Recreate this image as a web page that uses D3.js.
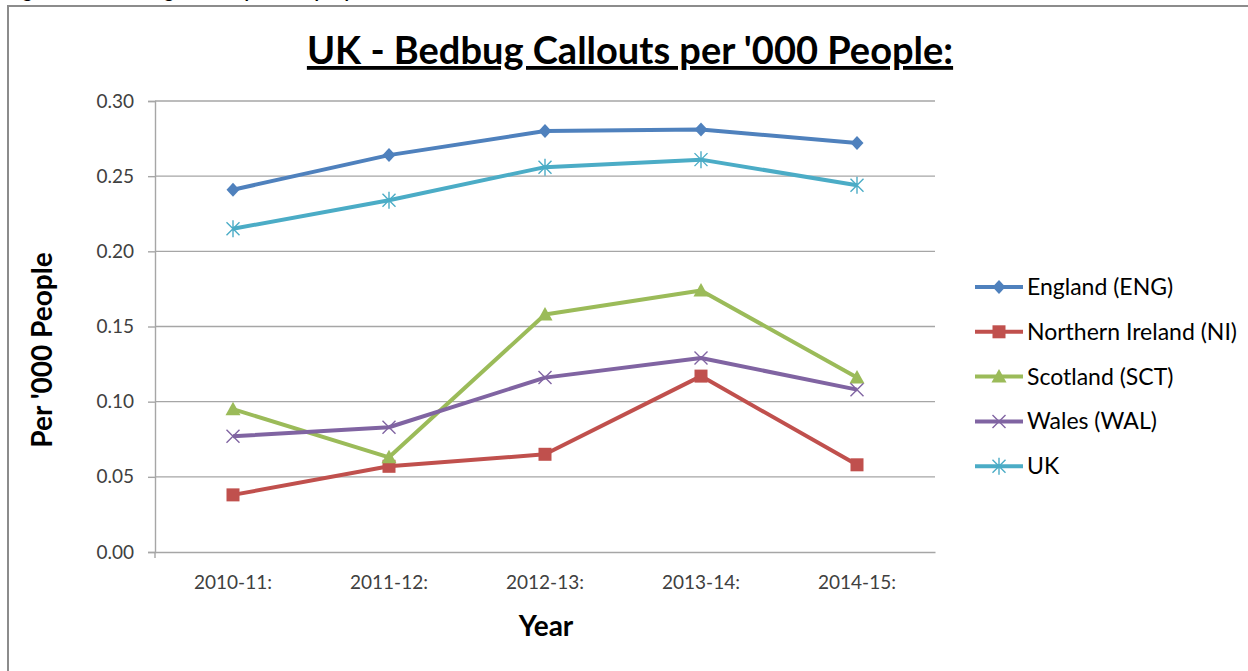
<!DOCTYPE html>
<html>
<head>
<meta charset="utf-8">
<script src="https://cdn.jsdelivr.net/npm/d3@7"></script>
<style>
  html, body { margin: 0; padding: 0; background: #fff; }
  svg { display: block; }
</style>
</head>
<body>
<svg id="chart" width="1248" height="671"></svg>
<script>
const categories = ["2010-11:", "2011-12:", "2012-13:", "2013-14:", "2014-15:"];
const seriesNames = ["England (ENG)", "Northern Ireland (NI)", "Scotland (SCT)", "Wales (WAL)", "UK"];
const england = [0.241, 0.264, 0.280, 0.281, 0.272];
const northernIreland = [0.038, 0.057, 0.065, 0.117, 0.058];
const scotland = [0.095, 0.063, 0.158, 0.174, 0.116];
const wales = [0.077, 0.083, 0.116, 0.129, 0.108];
const uk = [0.215, 0.234, 0.256, 0.261, 0.244];
const yTicks = [0, 0.05, 0.10, 0.15, 0.20, 0.25, 0.30];

(function () {
const seriesValues = [england, northernIreland, scotland, wales, uk];
const colors = ["#4F81BD", "#C0504D", "#9BBB59", "#8064A2", "#4BACC6"];
const markers = ["diamond", "square", "triangle", "x", "star"];

const svg = d3.select("#chart");
const font = "Lato, 'Open Sans', sans-serif";

// top cut-off caption (only descenders visible)
svg.append("text").attr("x", 8).attr("y", -2)
  .attr("font-family", font).attr("font-weight", "bold").attr("font-size", 18)
  .attr("fill", "#000")
  .text("Figure 3: UK Bedbug callouts per '000 people");

// outer border
svg.append("path").attr("d", "M8,671 V6 H1248")
  .attr("fill", "none").attr("stroke", "#8c8c8c").attr("stroke-width", 2);

const pLeft = 155, pRight = 935, pTop = 101, pBottom = 552;
const x = d3.scaleBand().domain(categories).range([pLeft, pRight]);
const y = d3.scaleLinear().domain([0, 0.30]).range([pBottom, pTop]);

// gridlines
svg.append("g").selectAll("line").data(yTicks.filter(d => d > 0)).join("line")
  .attr("x1", pLeft).attr("x2", pRight)
  .attr("y1", d => y(d)).attr("y2", d => y(d))
  .attr("stroke", "#a6a6a6").attr("stroke-width", 1.4);

// y axis
const yAxis = svg.append("g").attr("transform", `translate(${pLeft},0)`)
  .call(d3.axisLeft(y).tickValues(yTicks).tickFormat(d3.format(".2f")).tickSize(7).tickPadding(14));
yAxis.select(".domain").attr("stroke", "#a6a6a6").attr("stroke-width", 1.4);
yAxis.selectAll(".tick line").attr("stroke", "#a6a6a6").attr("stroke-width", 1.4);
yAxis.selectAll("text").attr("font-family", font).attr("font-size", 19).attr("fill", "#404040");

// x axis
const xAxis = svg.append("g").attr("transform", `translate(0,${pBottom})`)
  .call(d3.axisBottom(x).tickSize(0).tickPadding(24));
xAxis.select(".domain").attr("stroke", "#a6a6a6").attr("stroke-width", 1.4);
xAxis.selectAll("text").attr("font-family", font).attr("font-size", 19).attr("fill", "#404040");
svg.append("line").attr("x1", pLeft).attr("x2", pLeft).attr("y1", pBottom).attr("y2", pBottom + 6)
  .attr("stroke", "#a6a6a6").attr("stroke-width", 1.4);

// title
svg.append("text").attr("x", 630).attr("y", 64).attr("text-anchor", "middle")
  .attr("font-family", font).attr("font-weight", "bold").attr("font-size", 38)
  .attr("text-decoration", "underline").attr("fill", "#000")
  .text("UK - Bedbug Callouts per '000 People:");

// axis titles
svg.append("text").attr("transform", "translate(52,350) rotate(-90)").attr("text-anchor", "middle")
  .attr("font-family", font).attr("font-weight", "bold").attr("font-size", 28).attr("fill", "#000")
  .text("Per '000 People");
svg.append("text").attr("x", 546).attr("y", 636).attr("text-anchor", "middle")
  .attr("font-family", font).attr("font-weight", "bold").attr("font-size", 28).attr("fill", "#000")
  .text("Year");

function drawMarker(g, type, color) {
  if (type === "diamond") {
    g.append("path").attr("d", "M0,-7 L6.5,0 L0,7 L-6.5,0 Z").attr("fill", color);
  } else if (type === "square") {
    g.append("rect").attr("x", -6.5).attr("y", -6.5).attr("width", 13).attr("height", 13).attr("fill", color);
  } else if (type === "triangle") {
    g.append("path").attr("d", "M0,-7.5 L7.5,6 L-7.5,6 Z").attr("fill", color);
  } else if (type === "x") {
    g.append("path").attr("d", "M-6.5,-6.5 L6.5,6.5 M-6.5,6.5 L6.5,-6.5").attr("stroke", color).attr("stroke-width", 1.4).attr("fill", "none");
  } else if (type === "star") {
    g.append("path").attr("d", "M-6.5,-6.5 L6.5,6.5 M-6.5,6.5 L6.5,-6.5 M0,-8.5 L0,8.5").attr("stroke", color).attr("stroke-width", 1.4).attr("fill", "none");
  }
}

const line = d3.line().x((d, i) => x(categories[i]) + x.bandwidth() / 2).y(d => y(d));

seriesValues.forEach((vals, si) => {
  const g = svg.append("g");
  g.append("path").datum(vals).attr("d", line)
    .attr("fill", "none").attr("stroke", colors[si]).attr("stroke-width", 4)
    .attr("stroke-linejoin", "round");
  vals.forEach((v, i) => {
    const mg = g.append("g").attr("transform", `translate(${x(categories[i]) + x.bandwidth() / 2},${y(v)})`);
    drawMarker(mg, markers[si], colors[si]);
  });
});

// legend
const legend = svg.append("g").attr("transform", "translate(975,287)");
seriesNames.forEach((name, i) => {
  const g = legend.append("g").attr("transform", `translate(0,${i * 44.8})`);
  g.append("line").attr("x1", 0).attr("x2", 48).attr("y1", 0).attr("y2", 0)
    .attr("stroke", colors[i]).attr("stroke-width", 4);
  const mg = g.append("g").attr("transform", "translate(24,0)");
  drawMarker(mg, markers[i], colors[i]);
  g.append("text").attr("x", 52).attr("y", 0).attr("dy", "0.35em")
    .attr("font-family", font).attr("font-size", 23).attr("fill", "#000")
    .text(name);
});
})();
</script>
</body>
</html>
